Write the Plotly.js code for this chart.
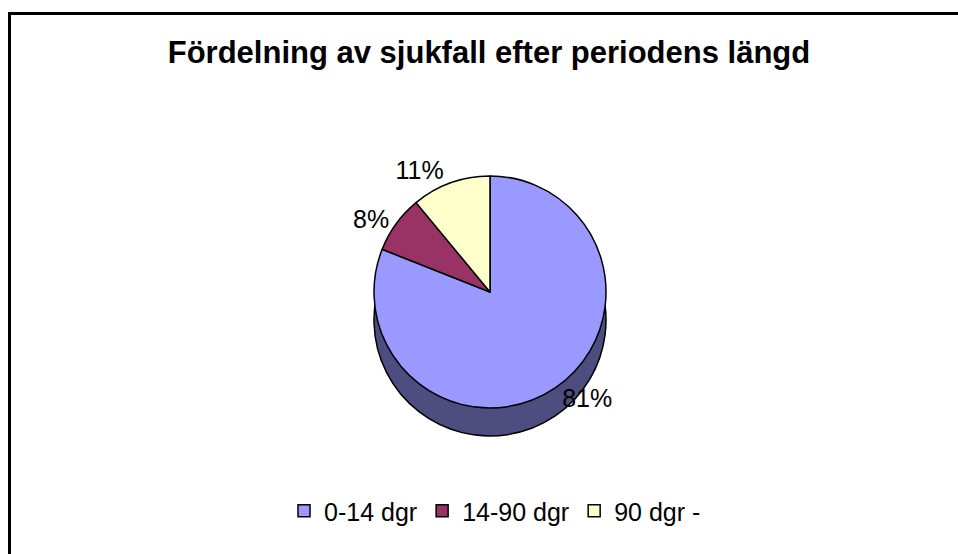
<!DOCTYPE html>
<html>
<head>
<meta charset="utf-8">
<script src="https://cdn.plot.ly/plotly-3.0.1.min.js"></script>
<style>
  html, body { margin: 0; padding: 0; background: #ffffff; }
  #chart { width: 958px; height: 554px; }
</style>
</head>
<body>
<div id="chart"></div>
<script>
// ---- data ----
const categories = ['0-14 dgr', '14-90 dgr', '90 dgr -'];
const shares = [81, 8, 11];
const topColors = ['#9999FF', '#993366', '#FFFFCC'];
const sideColors = ['#4D4D80', '#4D1A33', '#808066'];
const chartTitle = 'Fördelning av sjukfall efter periodens längd';

// ---- layout helpers (pixels -> paper fractions) ----
const W = 958, H = 554;
const fx = px => px / W;
const fy = py => 1 - py / H;
const FONT = 'Liberation Sans, Arial, sans-serif';

const cx = 490, cy = 292, r = 116, depth = 28;

const sideTrace = {
  type: 'pie',
  labels: categories,
  values: shares,
  sort: false,
  direction: 'clockwise',
  rotation: 0,
  marker: { colors: sideColors, line: { color: '#000000', width: 1.5 } },
  textinfo: 'none',
  hoverinfo: 'skip',
  showlegend: false,
  domain: { x: [fx(cx - r), fx(cx + r)], y: [fy(cy + depth + r), fy(cy + depth - r)] }
};

const topTrace = {
  type: 'pie',
  labels: categories,
  values: shares,
  sort: false,
  direction: 'clockwise',
  rotation: 0,
  marker: { colors: topColors, line: { color: '#000000', width: 1.5 } },
  texttemplate: '%{percent:.0%}',
  textposition: 'outside',
  outsidetextfont: { family: FONT, size: 25, color: '#000000' },
  showlegend: true,
  domain: { x: [fx(cx - r), fx(cx + r)], y: [fy(cy + r), fy(cy - r)] }
};

const layout = {
  width: W,
  height: H,
  margin: { l: 0, r: 0, t: 0, b: 0 },
  paper_bgcolor: '#ffffff',
  plot_bgcolor: '#ffffff',
  font: { family: FONT, color: '#000000' },
  title: {
    text: '<b>' + chartTitle + '</b>',
    font: { family: FONT, size: 31, color: '#000000' },
    x: fx(489), xanchor: 'center', xref: 'container',
    y: fy(52), yanchor: 'middle', yref: 'container'
  },
  showlegend: true,
  legend: {
    orientation: 'h',
    x: fx(495), xanchor: 'center',
    y: fy(511), yanchor: 'middle',
    font: { family: FONT, size: 25, color: '#000000' },
    bgcolor: 'rgba(0,0,0,0)',
    traceorder: 'normal'
  },
  shapes: [
    { type: 'line', xref: 'paper', yref: 'paper', x0: fx(8), x1: 1.02, y0: fy(13.5), y1: fy(13.5),
      line: { color: '#000000', width: 3 } },
    { type: 'line', xref: 'paper', yref: 'paper', x0: fx(9.5), x1: fx(9.5), y0: fy(12), y1: -0.02,
      line: { color: '#000000', width: 3 } }
  ]
};

Plotly.newPlot('chart', [sideTrace, topTrace], layout, { displayModeBar: false, staticPlot: true });
</script>
</body>
</html>
